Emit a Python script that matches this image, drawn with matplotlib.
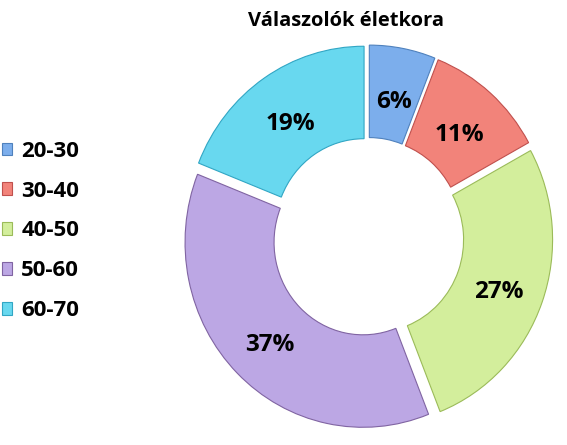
import matplotlib
matplotlib.use('Agg')
import matplotlib.pyplot as plt
import matplotlib.transforms as mtransforms

# adatok
korok = ['20-30', '30-40', '40-50', '50-60', '60-70']
arany = [6, 11, 27, 37, 19]
szinek = ['#7CAEEC', '#F2837A', '#D3EE9C', '#BCA7E4', '#68D8EF']
szelek = ['#4F81BD', '#C0504D', '#9BBB59', '#8064A2', '#31A6C4']

plt.rcParams['font.family'] = ['Open Sans', 'DejaVu Sans']

fig = plt.figure(figsize=(5.67, 4.45), dpi=100)
ax = fig.add_axes([0, 0, 1, 1])

# a kép kissé függőlegesen nyújtott
nyujtas = 1.039

wedges, texts, autotexts = ax.pie(
    arany, explode=[7] * len(arany), center=(368, 200), radius=178,
    colors=szinek, startangle=90, counterclock=False,
    autopct='%d%%', pctdistance=0.74,
    wedgeprops=dict(width=89, linewidth=0.8),
    textprops=dict(fontsize=17.5, fontweight='bold', color='black'))
for w, e in zip(wedges, szelek):
    w.set_edgecolor(e)

# feliratok kicsit lejjebb, mint az Excelben
eltol = mtransforms.ScaledTranslation(0, -6 / 100, fig.dpi_scale_trans)
for t in autotexts:
    t.set_transform(t.get_transform() + eltol)

ax.set_aspect('auto')
ax.set_xlim(0, 567)
ax.set_ylim(0, 445 / nyujtas)
ax.axis('off')

fig.text(0.611, 0.975, 'Válaszolók életkora', ha='center', va='top',
         fontsize=14.5, fontweight='bold')

fig.legend(wedges, korok, loc='center left', bbox_to_anchor=(0.004, 214 / 445),
           frameon=False, prop=dict(weight='bold', size=16),
           handlelength=0.45, handleheight=0.5, handletextpad=0.4,
           labelspacing=0.85, borderpad=0, borderaxespad=0)

fig.savefig('out.png', dpi=100)
